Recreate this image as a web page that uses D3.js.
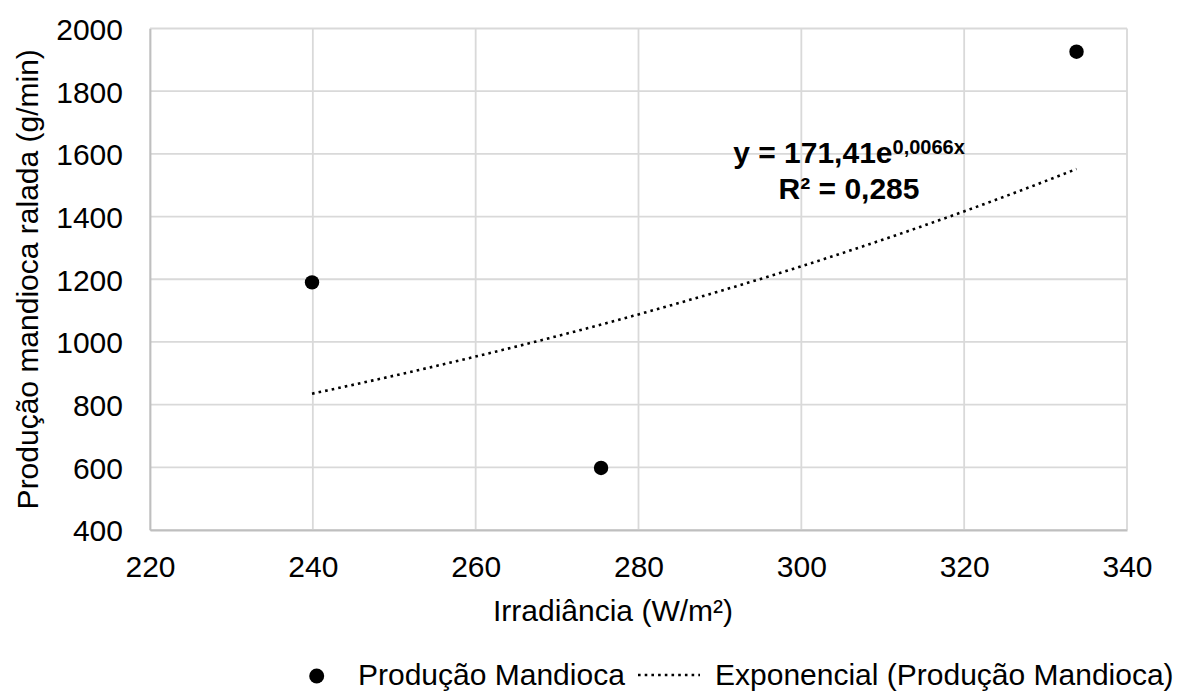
<!DOCTYPE html>
<html>
<head>
<meta charset="utf-8">
<script src="https://cdn.jsdelivr.net/npm/d3@7"></script>
<style>
  html, body { margin: 0; padding: 0; background: #fff; }
  svg { display: block; }
  text { font-family: "Liberation Sans", Arial, sans-serif; fill: #000; }
</style>
</head>
<body>
<svg id="chart" width="1182" height="693"></svg>
<script>
// ---- data ----
const irradiance = [239.9, 275.4, 333.8];
const production = [1190, 598, 1926];
const xTickValues = [220, 240, 260, 280, 300, 320, 340];
const yTickValues = [400, 600, 800, 1000, 1200, 1400, 1600, 1800, 2000];
const trendA = 171.41;
const trendB = 0.0066;
const equationMain = "y = 171,41e";
const equationExp = "0,0066x";
const equationR2 = "R² = 0,285";
const xTitle = "Irradiância (W/m²)";
const yTitle = "Produção mandioca ralada (g/min)";
const legendLabels = ["Produção Mandioca", "Exponencial (Produção Mandioca)"];

// ---- layout ----
const svg = d3.select("#chart");
const plotLeft = 150, plotRight = 1127, plotTop = 28.5, plotBottom = 530;
const x = d3.scaleLinear().domain([220, 340]).range([plotLeft, plotRight]);
const y = d3.scaleLinear().domain([400, 2000]).range([plotBottom, plotTop]);
const gridColor = "#d9d9d9";

// gridlines
const grid = svg.append("g");
grid.selectAll("line.v").data(xTickValues).enter().append("line")
  .attr("x1", d => x(d)).attr("x2", d => x(d))
  .attr("y1", plotTop).attr("y2", plotBottom)
  .attr("stroke", gridColor).attr("stroke-width", 1.8);
grid.selectAll("line.h").data(yTickValues).enter().append("line")
  .attr("x1", plotLeft).attr("x2", plotRight)
  .attr("y1", d => y(d)).attr("y2", d => y(d))
  .attr("stroke", gridColor).attr("stroke-width", 1.8);

// axes
const xAxis = d3.axisBottom(x).tickValues(xTickValues).tickSize(0).tickPadding(0).tickFormat(d3.format("d"));
const gx = svg.append("g").attr("transform", `translate(0,${plotBottom})`).call(xAxis);
gx.select(".domain").attr("stroke", "#bfbfbf").attr("stroke-width", 1.8);
gx.selectAll("text").attr("font-size", 30).attr("font-family", "Liberation Sans, Arial, sans-serif")
  .attr("fill", "#000").attr("y", 47).attr("dy", 0);

const yAxis = d3.axisLeft(y).tickValues(yTickValues).tickSize(0).tickPadding(0).tickFormat(d3.format("d"));
const gy = svg.append("g").attr("transform", `translate(${plotLeft},0)`).call(yAxis);
gy.select(".domain").attr("stroke", "#bfbfbf").attr("stroke-width", 1.8);
gy.selectAll("text").attr("font-size", 30).attr("font-family", "Liberation Sans, Arial, sans-serif")
  .attr("fill", "#000").attr("x", -27).attr("dy", "0.36em");

// trendline
const xMin = d3.min(irradiance), xMax = d3.max(irradiance);
const trendX = d3.range(0, 101).map(i => xMin + (xMax - xMin) * i / 100);
const line = d3.line().x(d => x(d)).y(d => y(trendA * Math.exp(trendB * d)));
svg.append("path").datum(trendX)
  .attr("d", line)
  .attr("fill", "none").attr("stroke", "#000")
  .attr("stroke-width", 2.6).attr("stroke-dasharray", "2.6 4.1");

// points
svg.selectAll("circle.pt").data(irradiance).enter().append("circle")
  .attr("cx", d => x(d)).attr("cy", (d, i) => y(production[i]))
  .attr("r", 7.2).attr("fill", "#000");

// equation
const eq = svg.append("text").attr("x", 849).attr("y", 163)
  .attr("text-anchor", "middle").attr("font-size", 30).attr("font-weight", "bold");
eq.append("tspan").text(equationMain);
eq.append("tspan").attr("font-size", 20).attr("dy", -9).text(equationExp);
svg.append("text").attr("x", 849).attr("y", 199)
  .attr("text-anchor", "middle").attr("font-size", 30).attr("font-weight", "bold")
  .text(equationR2);

// axis titles
svg.append("text").attr("x", 613).attr("y", 621)
  .attr("text-anchor", "middle").attr("font-size", 30).text(xTitle);
svg.append("text")
  .attr("transform", `translate(38,${(plotTop + plotBottom) / 2}) rotate(-90)`)
  .attr("text-anchor", "middle").attr("font-size", 30).text(yTitle);

// legend
const lg = svg.append("g");
lg.append("circle").attr("cx", 316.7).attr("cy", 676).attr("r", 7.5).attr("fill", "#000");
lg.append("text").attr("x", 358).attr("y", 685).attr("font-size", 30).text(legendLabels[0]);
lg.append("line").attr("x1", 638).attr("x2", 700).attr("y1", 675).attr("y2", 675)
  .attr("stroke", "#000").attr("stroke-width", 2.6).attr("stroke-dasharray", "2.6 4.1");
lg.append("text").attr("x", 715).attr("y", 685).attr("font-size", 30).text(legendLabels[1]);
</script>
</body>
</html>
